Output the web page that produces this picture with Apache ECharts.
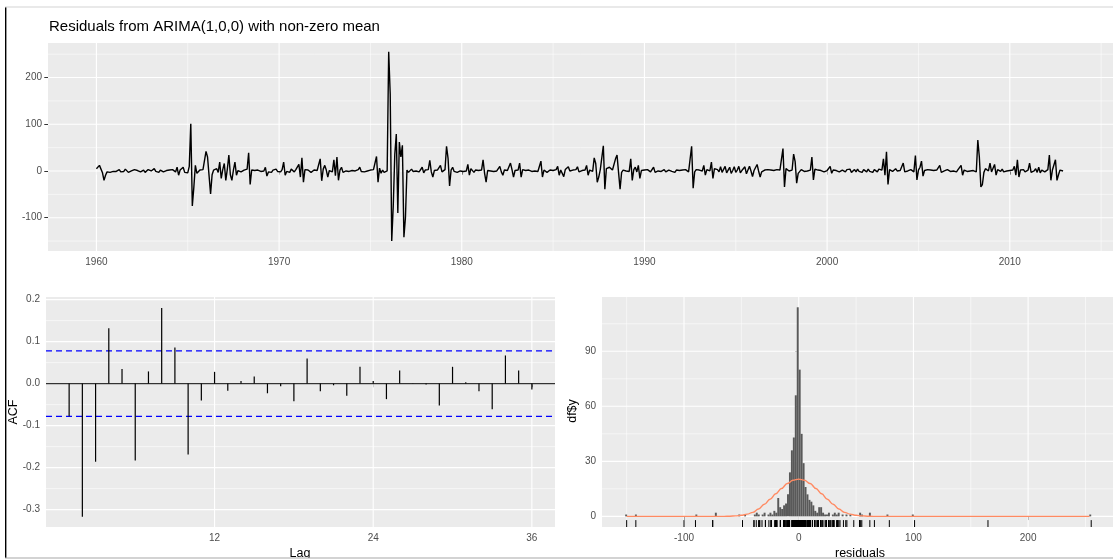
<!DOCTYPE html>
<html>
<head>
<meta charset="utf-8">
<title>Residuals from ARIMA(1,0,0)</title>
<script src="https://cdn.jsdelivr.net/npm/echarts@6/dist/echarts.min.js"></script>
<style>
  html, body { margin: 0; padding: 0; background: #fff; }
  #chart { width: 1113px; height: 560px; }
</style>
</head>
<body>
<div id="chart"></div>
<script>
// residuals, monthly from Jan 1960, one row per year
const startYear = 1960
const resid = [
  5, 2, 12, 9, -4, -20, -9, -2, 0, -3, 1, -1,
  2, -1, 0, 3, -2, 1, -1, 4, 0, -3, 1, 0,
  -2, 3, -1, 1, 4, -2, 0, 2, -3, 1, 3, -1,
  0, -2, 5, -1, 1, -3, 2, 6, -2, 0, 1, -1,
  2, -1, 3, 1, -2, 8, -9, 2, 4, 8, -3, -6,
  -4, 10, 101, -75, -35, 12, -5, -8, 2, -1, 3, 0,
  42, 30, -10, -49, -8, 2, 0, 5, -3, 19, -16, 3,
  16, -20, 4, 34, -8, -20, 2, 19, -9, 1, 3, -2,
  0, 2, -1, 4, 39, -29, 2, 0, 1, -1, 2, 0,
  -1, 2, 0, 8, -11, -2, 1, -3, 2, 0, 4, -1,
  0, -2, 3, 19, -9, -1, 2, -3, 4, 1, -2, 3,
  -1, 14, -13, 28, -24, 3, -1, 2, 0, -3, 1, 2,
  0, 1, -2, 26, -21, 4, 12, 2, -13, 1, 3, -2,
  24, -10, 30, -20, 2, 8, -3, 1, 0, 2, -1, 0,
  1, -2, 0, 2, 3, 8, -1, 0, -2, 1, 0, -1,
  2, -1, 3, 5, 31, -24, 6, -5, 2, -3, 1, 0,
  255, 165, -150, -75, 35, 79, -90, 62, 30, 55, -142, -100,
  2, -3, 1, 4, -1, 2, 0, 3, -2, 1, 8, -4,
  2, -1, 3, 23, -2, -13, 1, 0, 2, -1, 12, -2,
  1, 3, 53, 27, -32, 2, 8, -1, 2, -3, 1, 0,
  2, -1, 3, 0, 14, -9, 5, 1, -3, 2, 0, 1,
  -1, 2, 24, -5, -24, 1, 3, 0, 2, -1, 3, 0,
  1, 10, -2, -9, 2, 0, 1, -2, 17, 3, -13, 1,
  0, 2, 17, -13, 3, 0, 1, -2, 2, 0, -1, 1,
  0, 2, -1, 3, 21, -13, 2, 0, -3, 1, 2, -1,
  1, 0, 3, 10, -9, 2, -1, -12, 3, 1, 9, 0,
  -1, 2, 0, 3, 9, -2, 0, 1, -3, 2, 12, -9,
  2, 1, -1, 28, 16, -24, -13, 3, 2, 54, -39, 5,
  6, 8, 7, 2, -1, 26, 34, -3, -39, -3, 2, 1,
  0, 2, -1, 26, -20, 3, 8, -2, 12, -16, 1, 0,
  2, -1, 3, 0, -2, 1, 8, -3, 1, 0, 2, -1,
  1, 3, -2, 0, 2, 5, -1, 1, -3, 2, 0, 1,
  0, 2, -1, 3, 1, -2, 2, 53, -37, -2, 3, 1,
  2, -1, 0, 12, -9, 3, 1, 0, 19, -16, 5, 1,
  3, -2, 9, -3, 1, 10, -4, 2, 8, -5, 1, 9,
  -3, 2, 10, -4, 1, 0, 9, -6, 2, 10, 0, -12,
  1, 2, 14, 0, -13, -2, 1, 2, 0, 3, -1, 2,
  0, 1, -2, 3, 1, 2, 5, 48, -34, 5, 1, 0,
  1, 2, 36, 20, -26, -5, -2, 3, 1, -1, 2, 0,
  -1, 2, 30, -19, 4, 0, 2, -1, 1, 3, -2, 0,
  1, 0, 10, -5, 2, -1, 1, 3, -2, 0, 2, 1,
  -2, 3, 0, 4, -3, 1, 3, -2, 4, -1, 2, -3,
  3, 0, -2, 4, -1, 2, -3, 3, 1, -2, 4, 0,
  2, 26, -9, 41, -29, 3, 5, -1, 2, 5, 0, -2,
  1, 3, 17, -2, 2, 0, -1, 3, 1, -2, 33, -19,
  2, 8, 21, -11, 1, -2, 3, 0, 2, -1, 1, 0,
  2, -1, 12, -3, 1, 0, -2, 3, 1, -1, 2, 0,
  1, -2, 3, 0, 12, -9, 2, 1, -1, 3, 0, 2,
  1, 0, -2, 66, 30, -34, -29, -3, 5, 2, 0, 17,
  -2, 2, 14, -9, 3, 1, -1, 4, -2, 2, 0, 3,
  1, -1, 2, 10, -9, 24, -13, 2, 0, 3, -2, 1,
  2, 17, -3, 1, 0, 5, -3, 8, -4, 2, 1, -2,
  1, 3, 34, -20, 2, 0, 24, -20, -8, 2, -1, 0
]
const yearTicks = [1960, 1970, 1980, 1990, 2000, 2010]
const yearMinor = [1965, 1975, 1985, 1995, 2005, 2015]
const residTicks = [-100, 0, 100, 200]
const residMinor = [-150, -50, 50, 150, 250]

// ACF, lags 1..36
const acfValues = [
  -0.078, -0.317, -0.186, 0.132, 0.035, -0.183, 0.029, 0.180, 0.086, -0.169, -0.040, 0.028,
  -0.017, 0.006, 0.017, -0.023, -0.006, -0.042, 0.060, -0.018, -0.004, -0.029, 0.040, 0.006,
  -0.037, 0.031, 0.001, -0.002, -0.052, 0.040, 0.003, -0.018, -0.061, 0.067, 0.031, -0.014
]
const acfCi = 0.078
const lagTicks = [12, 24, 36]
const acfTicks = [-0.3, -0.2, -0.1, 0, 0.1, 0.2]
const acfMinor = [-0.25, -0.15, -0.05, 0.05, 0.15]

// histogram of residuals: bin k covers [k*binWidth, (k+1)*binWidth)
const binWidth = 1.7
const histBins = [
  -89, -84, -53, -43, -31, -28, -23, -22, -21, -19, -18, -16, -15, -14, -13, -12,
  -11, -10, -9, -8, -7, -6, -5, -4, -3, -2, -1, 0, 1, 2, 3, 4, 5, 6, 7, 8, 9, 10, 11, 12,
  13, 14, 15, 17, 18, 19, 20, 22, 24, 26, 31, 32, 36, 45, 58, 149
]
const histCounts = [
  1, 1, 1, 2, 1, 1, 1, 2, 1, 1, 2, 1, 2, 1, 3, 2,
  10, 5, 4, 6, 7, 12, 24, 36, 43, 66, 114, 80, 45, 29, 16, 12, 9, 8, 6, 3, 2, 5, 5, 2,
  1, 1, 2, 1, 2, 1, 2, 1, 1, 1, 2, 1, 2, 1, 1, 1
]
// normal curve
const normX = [-150, -65, -60, -55, -50, -45, -40, -35, -30, -25, -20, -15, -10, -5, 0,
  5, 10, 15, 20, 25, 30, 35, 40, 45, 50, 55, 60, 65, 253.5]
const normY = [0, 0, 0.1, 0.25, 0.6, 1.2, 2.2, 4.0, 6.6, 9.3, 12.3, 15.2, 17.9, 19.7, 20.3,
  19.7, 17.9, 15.2, 12.3, 9.3, 6.6, 4.0, 2.2, 1.2, 0.6, 0.25, 0.1, 0, 0]
const histXTicks = [-100, 0, 100, 200]
const histXMinor = [-150, -50, 50, 150, 250]
const histYTicks = [0, 30, 60, 90]
const histYMinor = [15, 45, 75, 105]

const FONT = 'Liberation Sans, Arial, sans-serif'
const BG = '#EBEBEB'

const chart = echarts.init(document.getElementById('chart'), null, { renderer: 'canvas' })

// white grid lines drawn inside a panel
const gridLinesSeries = (idx, xMajor, xMinor, yMajor, yMinor) => ({
  type: 'custom',
  xAxisIndex: idx,
  yAxisIndex: idx,
  z: 1,
  silent: true,
  animation: false,
  clip: false,
  data: [
    ...xMinor.map((v) => [v, 0, 0]),
    ...yMinor.map((v) => [v, 1, 0]),
    ...xMajor.map((v) => [v, 0, 1]),
    ...yMajor.map((v) => [v, 1, 1])
  ],
  renderItem: (params, api) => {
    const cs = params.coordSys
    const v = api.value(0)
    const isY = api.value(1) === 1
    const w = api.value(2) === 1 ? 1.1 : 0.55
    let shape
    if (isY) {
      const y = api.coord([0, v])[1]
      shape = { x1: cs.x, y1: y, x2: cs.x + cs.width, y2: y }
    } else {
      const x = api.coord([v, 0])[0]
      shape = { x1: x, y1: cs.y, x2: x, y2: cs.y + cs.height }
    }
    return { type: 'line', shape, style: { stroke: '#fff', lineWidth: w } }
  }
})

const axisCommon = (ticks, fmt) => ({
  type: 'value',
  axisLine: { show: false },
  splitLine: { show: false },
  axisTick: { show: true, customValues: ticks, length: 3.7, lineStyle: { color: '#333', width: 1 } },
  axisLabel: {
    customValues: ticks,
    margin: 6,
    color: '#4D4D4D',
    fontSize: 10,
    fontFamily: FONT,
    formatter: fmt
  }
})

const option = {
  backgroundColor: '#fff',
  animation: false,
  grid: [
    { left: 48, top: 43, width: 1070, height: 208, show: true, backgroundColor: BG, borderWidth: 0 },
    { left: 46, top: 297, width: 509, height: 230, show: true, backgroundColor: BG, borderWidth: 0 },
    { left: 602, top: 297, width: 516, height: 230, show: true, backgroundColor: BG, borderWidth: 0 }
  ],
  xAxis: [
    { ...axisCommon(yearTicks, (v) => String(v)), gridIndex: 0, min: 1957.35, max: 2015.65 },
    { ...axisCommon(lagTicks, (v) => String(v)), gridIndex: 1, min: -0.75, max: 37.75 },
    { ...axisCommon(histXTicks, (v) => String(v)), gridIndex: 2, min: -171.5, max: 274 }
  ],
  yAxis: [
    { ...axisCommon(residTicks, (v) => String(v)), gridIndex: 0, min: -171.3, max: 274 },
    { ...axisCommon(acfTicks, (v) => v.toFixed(1)), gridIndex: 1, min: -0.3414, max: 0.2062 },
    { ...axisCommon(histYTicks, (v) => String(v)), gridIndex: 2, min: -5.8, max: 119.6 }
  ],
  series: [
    gridLinesSeries(0, yearTicks, yearMinor, residTicks, residMinor),
    gridLinesSeries(1, lagTicks, [], acfTicks, acfMinor),
    gridLinesSeries(2, histXTicks, histXMinor, histYTicks, histYMinor),
    {
      // residual time series
      type: 'line',
      xAxisIndex: 0,
      yAxisIndex: 0,
      z: 3,
      showSymbol: false,
      silent: true,
      data: resid.map((v, i) => [startYear + i / 12, v]),
      lineStyle: { color: '#000', width: 1.4 }
    },
    {
      // zero line and confidence bounds of the ACF
      type: 'custom',
      xAxisIndex: 1,
      yAxisIndex: 1,
      z: 3,
      silent: true,
      data: [[0, 0], [acfCi, 1], [-acfCi, 1]],
      renderItem: (params, api) => {
        const cs = params.coordSys
        const y = api.coord([0, api.value(0)])[1]
        const dashed = api.value(1) === 1
        return {
          type: 'line',
          shape: { x1: cs.x, y1: y, x2: cs.x + cs.width, y2: y },
          style: dashed
            ? { stroke: '#0000FF', lineWidth: 1.3, lineDash: [6, 4] }
            : { stroke: '#333', lineWidth: 1.4 }
        }
      }
    },
    {
      // ACF spikes
      type: 'custom',
      xAxisIndex: 1,
      yAxisIndex: 1,
      z: 4,
      silent: true,
      data: acfValues.map((v, i) => [i + 1, v]),
      renderItem: (params, api) => {
        const p0 = api.coord([api.value(0), 0])
        const p1 = api.coord([api.value(0), api.value(1)])
        return {
          type: 'line',
          shape: { x1: p0[0], y1: p0[1], x2: p1[0], y2: p1[1] },
          style: { stroke: '#000', lineWidth: 1.2 }
        }
      }
    },
    {
      // histogram bars
      type: 'custom',
      xAxisIndex: 2,
      yAxisIndex: 2,
      z: 3,
      silent: true,
      data: histBins.map((k, i) => [k, histCounts[i]]),
      renderItem: (params, api) => {
        const k = api.value(0)
        const p0 = api.coord([k * binWidth, api.value(1)])
        const p1 = api.coord([(k + 1) * binWidth, 0])
        return {
          type: 'rect',
          shape: { x: p0[0], y: p0[1], width: p1[0] - p0[0], height: p1[1] - p0[1] },
          style: { fill: '#595959' }
        }
      }
    },
    {
      // rug of the residuals
      type: 'custom',
      xAxisIndex: 2,
      yAxisIndex: 2,
      z: 3,
      silent: true,
      data: resid.map((v) => [v, 0]),
      renderItem: (params, api) => {
        const cs = params.coordSys
        const x = api.coord([api.value(0), 0])[0]
        const yb = cs.y + cs.height
        return {
          type: 'line',
          shape: { x1: x, y1: yb, x2: x, y2: yb - cs.height * 0.03 },
          style: { stroke: '#000', lineWidth: 1 }
        }
      }
    },
    {
      // normal curve
      type: 'line',
      xAxisIndex: 2,
      yAxisIndex: 2,
      z: 4,
      silent: true,
      showSymbol: false,
      smooth: 0.4,
      smoothMonotone: 'x',
      data: normX.map((x, i) => [x, normY[i]]),
      lineStyle: { color: '#FF8A62', width: 1.4 }
    }
  ],
  graphic: [
    { type: 'rect', shape: { x: 5, y: 7, width: 1.4, height: 553 }, style: { fill: '#000' }, z: 10 },
    { type: 'rect', shape: { x: 5, y: 6.5, width: 1108, height: 1 }, style: { fill: '#D4D4D4' }, z: 10 },
    {
      type: 'text', x: 49, y: 27, z: 10,
      style: { text: 'Residuals from ARIMA(1,0,0) with non-zero mean', font: '15px ' + FONT, fill: '#000', verticalAlign: 'middle' }
    },
    {
      type: 'text', x: 14, y: 412, rotation: Math.PI / 2, z: 10,
      style: { text: 'ACF', font: '12.5px ' + FONT, fill: '#000', align: 'center', verticalAlign: 'middle' }
    },
    {
      type: 'text', x: 573, y: 411, rotation: Math.PI / 2, z: 10,
      style: { text: 'df$y', font: '12.5px ' + FONT, fill: '#000', align: 'center', verticalAlign: 'middle' }
    },
    {
      type: 'text', x: 300, y: 554, z: 10,
      style: { text: 'Lag', font: '12.5px ' + FONT, fill: '#000', align: 'center', verticalAlign: 'middle' }
    },
    {
      type: 'text', x: 860, y: 554, z: 10,
      style: { text: 'residuals', font: '12.5px ' + FONT, fill: '#000', align: 'center', verticalAlign: 'middle' }
    },
    { type: 'rect', shape: { x: 5, y: 558, width: 1108, height: 2 }, style: { fill: '#fff' }, z: 11 },
    { type: 'rect', shape: { x: 5, y: 557.5, width: 1108, height: 1 }, style: { fill: '#A8A8A8' }, z: 12 }
  ]
}

chart.setOption(option)
</script>
</body>
</html>
